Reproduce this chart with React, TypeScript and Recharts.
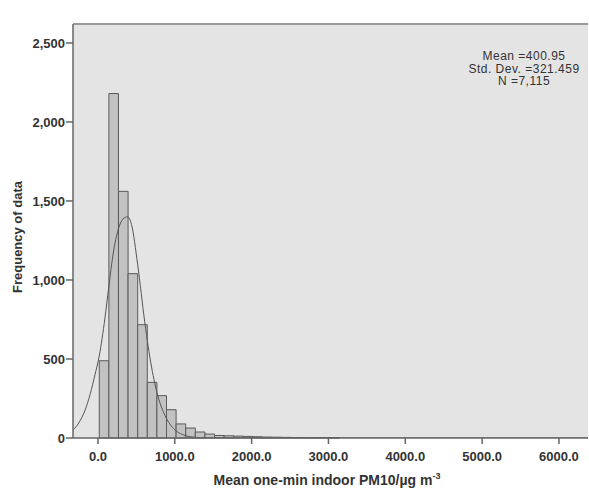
import React from 'react';
import {
  ComposedChart,
  XAxis,
  YAxis,
  Line,
  ReferenceArea,
  ReferenceLine,
  CartesianGrid,
  Customized,
} from 'recharts';

// Histogram bins (lower edge, upper edge) and counts
const binLower = [17, 142, 267, 392, 517, 642, 767, 892, 1017, 1142, 1267, 1392, 1517, 1642, 1767, 1892, 2017, 2142, 2267, 2392, 2517, 2642, 2767, 2892, 3017];
const binUpper = [142, 267, 392, 517, 642, 767, 892, 1017, 1142, 1267, 1392, 1517, 1642, 1767, 1892, 2017, 2142, 2267, 2392, 2517, 2642, 2767, 2892, 3017, 3142];
const binCounts = [489, 2180, 1561, 1040, 717, 352, 268, 179, 89, 63, 38, 25, 16, 14, 12, 10, 8, 6, 5, 4, 3, 2, 2, 2, 1];

// Fitted normal curve
const curveX = [-325, -250, -169, -100, -39, 17, 91, 139, 199, 264, 325, 385, 437, 516, 610, 697, 783, 870, 1000, 1100, 1200, 1400, 2000, 6378];
const curveY = [50, 95, 175, 280, 400, 520, 760, 950, 1170, 1320, 1385, 1400, 1350, 1100, 730, 450, 260, 145, 52, 22, 8, 1, 0, 0];

const xTicks = [0, 1000, 2000, 3000, 4000, 5000, 6000];
const yTicks = [0, 500, 1000, 1500, 2000, 2500];
const statLines = ['Mean =400.95', 'Std. Dev. =321.459', 'N =7,115'];

const X_DOMAIN: [number, number] = [-325, 6378];
const Y_DOMAIN: [number, number] = [0, 2620];

const curveData = curveX.map((x, i) => ({ x, y: curveY[i] }));

const FONT = '"Liberation Sans", Arial, sans-serif';
const TEXT = '#333333';

const Overlay = () => (
  <g fontFamily={FONT} fill={TEXT}>
    {statLines.map((s, i) => (
      <text key={s} x={524} y={60 + i * 12.5} textAnchor="middle" fontSize={12} letterSpacing={0.5}>
        {s}
      </text>
    ))}
    <text x={327} y={485} textAnchor="middle" fontSize={14} fontWeight="bold">
      Mean one-min indoor PM10/µg m
      <tspan fontSize={9} dy={-6}>-3</tspan>
    </text>
    <text
      x={22}
      y={237}
      textAnchor="middle"
      fontSize={13}
      fontWeight="bold"
      transform="rotate(-90 22 237)"
    >
      Frequency of data
    </text>
  </g>
);

export default function App() {
  return (
    <div style={{ position: 'absolute', left: 0, top: 0, width: 589, height: 488, background: '#fff' }}>
      <ComposedChart
        width={589}
        height={488}
        data={curveData}
        margin={{ top: 24, right: 1, bottom: 0, left: 0 }}
      >
        <CartesianGrid fill="#e4e4e4" horizontal={false} vertical={false} stroke="none" />
        <XAxis
          dataKey="x"
          type="number"
          domain={X_DOMAIN}
          ticks={xTicks}
          allowDataOverflow
          height={50}
          tickSize={6}
          tickMargin={8}
          tickFormatter={(v: number) => v.toFixed(1)}
          tick={{ fontSize: 13, fontWeight: 'bold', fill: TEXT, fontFamily: FONT }}
          axisLine={{ stroke: '#666', strokeWidth: 1.5 }}
          tickLine={{ stroke: '#666', strokeWidth: 1.5 }}
        />
        <YAxis
          type="number"
          domain={Y_DOMAIN}
          ticks={yTicks}
          allowDataOverflow
          width={73}
          tickSize={7}
          tickMargin={1}
          tickFormatter={(v: number) => v.toLocaleString('en-US')}
          tick={{ fontSize: 13, fontWeight: 'bold', fill: TEXT, fontFamily: FONT }}
          axisLine={{ stroke: '#666', strokeWidth: 1.5 }}
          tickLine={{ stroke: '#666', strokeWidth: 1.5 }}
        />
        <ReferenceLine y={Y_DOMAIN[1]} stroke="#999" strokeWidth={2} />
        {binCounts.map((c, i) => (
          <ReferenceArea
            key={i}
            x1={binLower[i]}
            x2={binUpper[i]}
            y1={0}
            y2={c}
            fill="#c2c2c2"
            fillOpacity={1}
            stroke="#5a5a5a"
            strokeWidth={1}
            ifOverflow="visible"
          />
        ))}
        <Line
          dataKey="y"
          type="monotone"
          stroke="#555"
          strokeWidth={1}
          dot={false}
          isAnimationActive={false}
        />
        <Customized component={Overlay} />
      </ComposedChart>
    </div>
  );
}
